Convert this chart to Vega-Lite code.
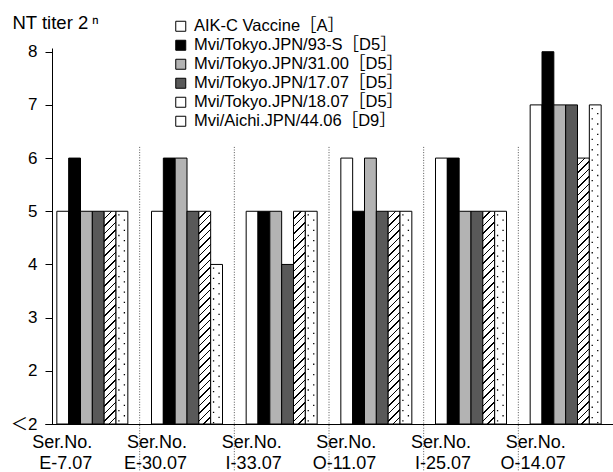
{
  "$schema": "https://vega.github.io/schema/vega-lite/v6.json",
  "width": 568,
  "height": 376,
  "autosize": {"type": "none"},
  "padding": {"left": 45, "top": 48, "right": 0, "bottom": 48},
  "config": {
    "font": "Liberation Sans, Noto Sans CJK JP, sans-serif",
    "view": {"stroke": null},
    "axis": {"labelColor": "#000", "titleColor": "#000", "domainColor": "#000", "tickColor": "#000", "grid": false, "domainWidth": 1, "tickWidth": 1}
  },
  "datasets": {
    "bars": [
      {"group": "E-7.07", "series": "AIK-C Vaccine［A］", "titer": 5},
      {"group": "E-7.07", "series": "Mvi/Tokyo.JPN/93-S［D5］", "titer": 6},
      {"group": "E-7.07", "series": "Mvi/Tokyo.JPN/31.00［D5］", "titer": 5},
      {"group": "E-7.07", "series": "Mvi/Tokyo.JPN/17.07［D5］", "titer": 5},
      {"group": "E-7.07", "series": "Mvi/Tokyo.JPN/18.07［D5］", "titer": 5},
      {"group": "E-7.07", "series": "Mvi/Aichi.JPN/44.06［D9］", "titer": 5},
      {"group": "E-30.07", "series": "AIK-C Vaccine［A］", "titer": 5},
      {"group": "E-30.07", "series": "Mvi/Tokyo.JPN/93-S［D5］", "titer": 6},
      {"group": "E-30.07", "series": "Mvi/Tokyo.JPN/31.00［D5］", "titer": 6},
      {"group": "E-30.07", "series": "Mvi/Tokyo.JPN/17.07［D5］", "titer": 5},
      {"group": "E-30.07", "series": "Mvi/Tokyo.JPN/18.07［D5］", "titer": 5},
      {"group": "E-30.07", "series": "Mvi/Aichi.JPN/44.06［D9］", "titer": 4},
      {"group": "I-33.07", "series": "AIK-C Vaccine［A］", "titer": 5},
      {"group": "I-33.07", "series": "Mvi/Tokyo.JPN/93-S［D5］", "titer": 5},
      {"group": "I-33.07", "series": "Mvi/Tokyo.JPN/31.00［D5］", "titer": 5},
      {"group": "I-33.07", "series": "Mvi/Tokyo.JPN/17.07［D5］", "titer": 4},
      {"group": "I-33.07", "series": "Mvi/Tokyo.JPN/18.07［D5］", "titer": 5},
      {"group": "I-33.07", "series": "Mvi/Aichi.JPN/44.06［D9］", "titer": 5},
      {"group": "O-11.07", "series": "AIK-C Vaccine［A］", "titer": 6},
      {"group": "O-11.07", "series": "Mvi/Tokyo.JPN/93-S［D5］", "titer": 5},
      {"group": "O-11.07", "series": "Mvi/Tokyo.JPN/31.00［D5］", "titer": 6},
      {"group": "O-11.07", "series": "Mvi/Tokyo.JPN/17.07［D5］", "titer": 5},
      {"group": "O-11.07", "series": "Mvi/Tokyo.JPN/18.07［D5］", "titer": 5},
      {"group": "O-11.07", "series": "Mvi/Aichi.JPN/44.06［D9］", "titer": 5},
      {"group": "I-25.07", "series": "AIK-C Vaccine［A］", "titer": 6},
      {"group": "I-25.07", "series": "Mvi/Tokyo.JPN/93-S［D5］", "titer": 6},
      {"group": "I-25.07", "series": "Mvi/Tokyo.JPN/31.00［D5］", "titer": 5},
      {"group": "I-25.07", "series": "Mvi/Tokyo.JPN/17.07［D5］", "titer": 5},
      {"group": "I-25.07", "series": "Mvi/Tokyo.JPN/18.07［D5］", "titer": 5},
      {"group": "I-25.07", "series": "Mvi/Aichi.JPN/44.06［D9］", "titer": 5},
      {"group": "O-14.07", "series": "AIK-C Vaccine［A］", "titer": 7},
      {"group": "O-14.07", "series": "Mvi/Tokyo.JPN/93-S［D5］", "titer": 8},
      {"group": "O-14.07", "series": "Mvi/Tokyo.JPN/31.00［D5］", "titer": 7},
      {"group": "O-14.07", "series": "Mvi/Tokyo.JPN/17.07［D5］", "titer": 7},
      {"group": "O-14.07", "series": "Mvi/Tokyo.JPN/18.07［D5］", "titer": 6},
      {"group": "O-14.07", "series": "Mvi/Aichi.JPN/44.06［D9］", "titer": 7}
    ],
    "separators": [
      {"group": "E-7.07"},
      {"group": "E-30.07"},
      {"group": "I-33.07"},
      {"group": "O-11.07"},
      {"group": "I-25.07"}
    ]
  },
  "layer": [
    {
      "data": {"name": "separators"},
      "mark": {"type": "rule", "color": "#555", "strokeWidth": 1, "strokeDash": [1, 1.6]},
      "encoding": {
        "x": {"field": "group", "type": "nominal", "bandPosition": 1},
        "y": {"datum": 6.21, "type": "quantitative"},
        "y2": {"datum": 0.1}
      }
    },
    {
      "data": {"name": "bars"},
      "mark": {"type": "bar", "stroke": "#000", "strokeWidth": 1},
      "encoding": {
        "x": {
          "field": "group", "type": "nominal", "sort": null,
          "scale": {"domain": ["E-7.07", "E-30.07", "I-33.07", "O-11.07", "I-25.07", "O-14.07"], "paddingInner": 0, "paddingOuter": 0},
          "axis": {"title": null, "ticks": false, "tickSize": 0, "labelAngle": 0, "labelExpr": "['Ser.No.', datum.label]", "labelFontSize": 18, "labelLineHeight": 21, "labelPadding": 9, "labelBaseline": "top"}
        },
        "xOffset": {
          "field": "series", "type": "nominal", "sort": null,
          "scale": {"domain": ["AIK-C Vaccine［A］", "Mvi/Tokyo.JPN/93-S［D5］", "Mvi/Tokyo.JPN/31.00［D5］", "Mvi/Tokyo.JPN/17.07［D5］", "Mvi/Tokyo.JPN/18.07［D5］", "Mvi/Aichi.JPN/44.06［D9］"], "paddingInner": 0, "paddingOuter": 1}
        },
        "y": {
          "field": "titer", "type": "quantitative",
          "scale": {"domain": [1, 8.07], "nice": false, "zero": false},
          "axis": {"values": [1, 2, 3, 4, 5, 6, 7, 8], "labelExpr": "datum.value == 1 ? '＜2' : format(datum.value, 'd')", "offset": -7, "tickSize": 7, "labelPadding": 8, "labelFontSize": 17, "title": "NT titer 2\u2009ⁿ", "titleAngle": 0, "titleAlign": "left", "titleBaseline": "alphabetic", "titleFontSize": 18.5, "titleFontWeight": "normal", "titleX": -40, "titleY": -20}
        },
        "y2": {"datum": 1},
        "fill": {
          "field": "series", "type": "nominal",
          "scale": {"domain": ["AIK-C Vaccine［A］", "Mvi/Tokyo.JPN/93-S［D5］", "Mvi/Tokyo.JPN/31.00［D5］", "Mvi/Tokyo.JPN/17.07［D5］", "Mvi/Tokyo.JPN/18.07［D5］", "Mvi/Aichi.JPN/44.06［D9］"], "range": ["#fff", "#000", "#b3b3b3", "#595959", "#fff", "#fff"]},
          "legend": {
            "orient": "none", "legendX": 127.5, "legendY": -30, "title": null, "padding": 0,
            "symbolType": "square", "symbolSize": 100, "symbolStrokeColor": "#000", "symbolStrokeWidth": 1,
            "labelFontSize": 16.5, "labelOffset": 5, "labelLimit": 400, "labelColor": "#000", "rowPadding": 2, "zindex": 1
          },
          "condition": [
            {"test": "datum.series === 'Mvi/Tokyo.JPN/18.07［D5］' && datum.titer === 6", "value": {"gradient": "linear", "x1": 0, "y1": 0, "x2": 0.050093, "y2": 1.12597, "stops": [
              {"offset": 0, "color": "#fff"},
              {"offset": 0.0225, "color": "#fff"}, {"offset": 0.0225, "color": "#000"}, {"offset": 0.0275, "color": "#000"}, {"offset": 0.0275, "color": "#fff"},
              {"offset": 0.0475, "color": "#fff"}, {"offset": 0.0475, "color": "#000"}, {"offset": 0.0525, "color": "#000"}, {"offset": 0.0525, "color": "#fff"},
              {"offset": 0.0725, "color": "#fff"}, {"offset": 0.0725, "color": "#000"}, {"offset": 0.0775, "color": "#000"}, {"offset": 0.0775, "color": "#fff"},
              {"offset": 0.0975, "color": "#fff"}, {"offset": 0.0975, "color": "#000"}, {"offset": 0.1025, "color": "#000"}, {"offset": 0.1025, "color": "#fff"},
              {"offset": 0.1225, "color": "#fff"}, {"offset": 0.1225, "color": "#000"}, {"offset": 0.1275, "color": "#000"}, {"offset": 0.1275, "color": "#fff"},
              {"offset": 0.1475, "color": "#fff"}, {"offset": 0.1475, "color": "#000"}, {"offset": 0.1525, "color": "#000"}, {"offset": 0.1525, "color": "#fff"},
              {"offset": 0.1725, "color": "#fff"}, {"offset": 0.1725, "color": "#000"}, {"offset": 0.1775, "color": "#000"}, {"offset": 0.1775, "color": "#fff"},
              {"offset": 0.1975, "color": "#fff"}, {"offset": 0.1975, "color": "#000"}, {"offset": 0.2025, "color": "#000"}, {"offset": 0.2025, "color": "#fff"},
              {"offset": 0.2225, "color": "#fff"}, {"offset": 0.2225, "color": "#000"}, {"offset": 0.2275, "color": "#000"}, {"offset": 0.2275, "color": "#fff"},
              {"offset": 0.2475, "color": "#fff"}, {"offset": 0.2475, "color": "#000"}, {"offset": 0.2525, "color": "#000"}, {"offset": 0.2525, "color": "#fff"},
              {"offset": 0.2725, "color": "#fff"}, {"offset": 0.2725, "color": "#000"}, {"offset": 0.2775, "color": "#000"}, {"offset": 0.2775, "color": "#fff"},
              {"offset": 0.2975, "color": "#fff"}, {"offset": 0.2975, "color": "#000"}, {"offset": 0.3025, "color": "#000"}, {"offset": 0.3025, "color": "#fff"},
              {"offset": 0.3225, "color": "#fff"}, {"offset": 0.3225, "color": "#000"}, {"offset": 0.3275, "color": "#000"}, {"offset": 0.3275, "color": "#fff"},
              {"offset": 0.3475, "color": "#fff"}, {"offset": 0.3475, "color": "#000"}, {"offset": 0.3525, "color": "#000"}, {"offset": 0.3525, "color": "#fff"},
              {"offset": 0.3725, "color": "#fff"}, {"offset": 0.3725, "color": "#000"}, {"offset": 0.3775, "color": "#000"}, {"offset": 0.3775, "color": "#fff"},
              {"offset": 0.3975, "color": "#fff"}, {"offset": 0.3975, "color": "#000"}, {"offset": 0.4025, "color": "#000"}, {"offset": 0.4025, "color": "#fff"},
              {"offset": 0.4225, "color": "#fff"}, {"offset": 0.4225, "color": "#000"}, {"offset": 0.4275, "color": "#000"}, {"offset": 0.4275, "color": "#fff"},
              {"offset": 0.4475, "color": "#fff"}, {"offset": 0.4475, "color": "#000"}, {"offset": 0.4525, "color": "#000"}, {"offset": 0.4525, "color": "#fff"},
              {"offset": 0.4725, "color": "#fff"}, {"offset": 0.4725, "color": "#000"}, {"offset": 0.4775, "color": "#000"}, {"offset": 0.4775, "color": "#fff"},
              {"offset": 0.4975, "color": "#fff"}, {"offset": 0.4975, "color": "#000"}, {"offset": 0.5025, "color": "#000"}, {"offset": 0.5025, "color": "#fff"},
              {"offset": 0.5225, "color": "#fff"}, {"offset": 0.5225, "color": "#000"}, {"offset": 0.5275, "color": "#000"}, {"offset": 0.5275, "color": "#fff"},
              {"offset": 0.5475, "color": "#fff"}, {"offset": 0.5475, "color": "#000"}, {"offset": 0.5525, "color": "#000"}, {"offset": 0.5525, "color": "#fff"},
              {"offset": 0.5725, "color": "#fff"}, {"offset": 0.5725, "color": "#000"}, {"offset": 0.5775, "color": "#000"}, {"offset": 0.5775, "color": "#fff"},
              {"offset": 0.5975, "color": "#fff"}, {"offset": 0.5975, "color": "#000"}, {"offset": 0.6025, "color": "#000"}, {"offset": 0.6025, "color": "#fff"},
              {"offset": 0.6225, "color": "#fff"}, {"offset": 0.6225, "color": "#000"}, {"offset": 0.6275, "color": "#000"}, {"offset": 0.6275, "color": "#fff"},
              {"offset": 0.6475, "color": "#fff"}, {"offset": 0.6475, "color": "#000"}, {"offset": 0.6525, "color": "#000"}, {"offset": 0.6525, "color": "#fff"},
              {"offset": 0.6725, "color": "#fff"}, {"offset": 0.6725, "color": "#000"}, {"offset": 0.6775, "color": "#000"}, {"offset": 0.6775, "color": "#fff"},
              {"offset": 0.6975, "color": "#fff"}, {"offset": 0.6975, "color": "#000"}, {"offset": 0.7025, "color": "#000"}, {"offset": 0.7025, "color": "#fff"},
              {"offset": 0.7225, "color": "#fff"}, {"offset": 0.7225, "color": "#000"}, {"offset": 0.7275, "color": "#000"}, {"offset": 0.7275, "color": "#fff"},
              {"offset": 0.7475, "color": "#fff"}, {"offset": 0.7475, "color": "#000"}, {"offset": 0.7525, "color": "#000"}, {"offset": 0.7525, "color": "#fff"},
              {"offset": 0.7725, "color": "#fff"}, {"offset": 0.7725, "color": "#000"}, {"offset": 0.7775, "color": "#000"}, {"offset": 0.7775, "color": "#fff"},
              {"offset": 0.7975, "color": "#fff"}, {"offset": 0.7975, "color": "#000"}, {"offset": 0.8025, "color": "#000"}, {"offset": 0.8025, "color": "#fff"},
              {"offset": 0.8225, "color": "#fff"}, {"offset": 0.8225, "color": "#000"}, {"offset": 0.8275, "color": "#000"}, {"offset": 0.8275, "color": "#fff"},
              {"offset": 0.8475, "color": "#fff"}, {"offset": 0.8475, "color": "#000"}, {"offset": 0.8525, "color": "#000"}, {"offset": 0.8525, "color": "#fff"},
              {"offset": 0.8725, "color": "#fff"}, {"offset": 0.8725, "color": "#000"}, {"offset": 0.8775, "color": "#000"}, {"offset": 0.8775, "color": "#fff"},
              {"offset": 0.8975, "color": "#fff"}, {"offset": 0.8975, "color": "#000"}, {"offset": 0.9025, "color": "#000"}, {"offset": 0.9025, "color": "#fff"},
              {"offset": 0.9225, "color": "#fff"}, {"offset": 0.9225, "color": "#000"}, {"offset": 0.9275, "color": "#000"}, {"offset": 0.9275, "color": "#fff"},
              {"offset": 1, "color": "#fff"}
            ]}},
            {"test": "datum.series === 'Mvi/Tokyo.JPN/18.07［D5］'", "value": {"gradient": "linear", "x1": 0, "y1": 0, "x2": 0.07818, "y2": 1.40589, "stops": [
              {"offset": 0, "color": "#fff"},
              {"offset": 0.0225, "color": "#fff"}, {"offset": 0.0225, "color": "#000"}, {"offset": 0.0275, "color": "#000"}, {"offset": 0.0275, "color": "#fff"},
              {"offset": 0.0475, "color": "#fff"}, {"offset": 0.0475, "color": "#000"}, {"offset": 0.0525, "color": "#000"}, {"offset": 0.0525, "color": "#fff"},
              {"offset": 0.0725, "color": "#fff"}, {"offset": 0.0725, "color": "#000"}, {"offset": 0.0775, "color": "#000"}, {"offset": 0.0775, "color": "#fff"},
              {"offset": 0.0975, "color": "#fff"}, {"offset": 0.0975, "color": "#000"}, {"offset": 0.1025, "color": "#000"}, {"offset": 0.1025, "color": "#fff"},
              {"offset": 0.1225, "color": "#fff"}, {"offset": 0.1225, "color": "#000"}, {"offset": 0.1275, "color": "#000"}, {"offset": 0.1275, "color": "#fff"},
              {"offset": 0.1475, "color": "#fff"}, {"offset": 0.1475, "color": "#000"}, {"offset": 0.1525, "color": "#000"}, {"offset": 0.1525, "color": "#fff"},
              {"offset": 0.1725, "color": "#fff"}, {"offset": 0.1725, "color": "#000"}, {"offset": 0.1775, "color": "#000"}, {"offset": 0.1775, "color": "#fff"},
              {"offset": 0.1975, "color": "#fff"}, {"offset": 0.1975, "color": "#000"}, {"offset": 0.2025, "color": "#000"}, {"offset": 0.2025, "color": "#fff"},
              {"offset": 0.2225, "color": "#fff"}, {"offset": 0.2225, "color": "#000"}, {"offset": 0.2275, "color": "#000"}, {"offset": 0.2275, "color": "#fff"},
              {"offset": 0.2475, "color": "#fff"}, {"offset": 0.2475, "color": "#000"}, {"offset": 0.2525, "color": "#000"}, {"offset": 0.2525, "color": "#fff"},
              {"offset": 0.2725, "color": "#fff"}, {"offset": 0.2725, "color": "#000"}, {"offset": 0.2775, "color": "#000"}, {"offset": 0.2775, "color": "#fff"},
              {"offset": 0.2975, "color": "#fff"}, {"offset": 0.2975, "color": "#000"}, {"offset": 0.3025, "color": "#000"}, {"offset": 0.3025, "color": "#fff"},
              {"offset": 0.3225, "color": "#fff"}, {"offset": 0.3225, "color": "#000"}, {"offset": 0.3275, "color": "#000"}, {"offset": 0.3275, "color": "#fff"},
              {"offset": 0.3475, "color": "#fff"}, {"offset": 0.3475, "color": "#000"}, {"offset": 0.3525, "color": "#000"}, {"offset": 0.3525, "color": "#fff"},
              {"offset": 0.3725, "color": "#fff"}, {"offset": 0.3725, "color": "#000"}, {"offset": 0.3775, "color": "#000"}, {"offset": 0.3775, "color": "#fff"},
              {"offset": 0.3975, "color": "#fff"}, {"offset": 0.3975, "color": "#000"}, {"offset": 0.4025, "color": "#000"}, {"offset": 0.4025, "color": "#fff"},
              {"offset": 0.4225, "color": "#fff"}, {"offset": 0.4225, "color": "#000"}, {"offset": 0.4275, "color": "#000"}, {"offset": 0.4275, "color": "#fff"},
              {"offset": 0.4475, "color": "#fff"}, {"offset": 0.4475, "color": "#000"}, {"offset": 0.4525, "color": "#000"}, {"offset": 0.4525, "color": "#fff"},
              {"offset": 0.4725, "color": "#fff"}, {"offset": 0.4725, "color": "#000"}, {"offset": 0.4775, "color": "#000"}, {"offset": 0.4775, "color": "#fff"},
              {"offset": 0.4975, "color": "#fff"}, {"offset": 0.4975, "color": "#000"}, {"offset": 0.5025, "color": "#000"}, {"offset": 0.5025, "color": "#fff"},
              {"offset": 0.5225, "color": "#fff"}, {"offset": 0.5225, "color": "#000"}, {"offset": 0.5275, "color": "#000"}, {"offset": 0.5275, "color": "#fff"},
              {"offset": 0.5475, "color": "#fff"}, {"offset": 0.5475, "color": "#000"}, {"offset": 0.5525, "color": "#000"}, {"offset": 0.5525, "color": "#fff"},
              {"offset": 0.5725, "color": "#fff"}, {"offset": 0.5725, "color": "#000"}, {"offset": 0.5775, "color": "#000"}, {"offset": 0.5775, "color": "#fff"},
              {"offset": 0.5975, "color": "#fff"}, {"offset": 0.5975, "color": "#000"}, {"offset": 0.6025, "color": "#000"}, {"offset": 0.6025, "color": "#fff"},
              {"offset": 0.6225, "color": "#fff"}, {"offset": 0.6225, "color": "#000"}, {"offset": 0.6275, "color": "#000"}, {"offset": 0.6275, "color": "#fff"},
              {"offset": 0.6475, "color": "#fff"}, {"offset": 0.6475, "color": "#000"}, {"offset": 0.6525, "color": "#000"}, {"offset": 0.6525, "color": "#fff"},
              {"offset": 0.6725, "color": "#fff"}, {"offset": 0.6725, "color": "#000"}, {"offset": 0.6775, "color": "#000"}, {"offset": 0.6775, "color": "#fff"},
              {"offset": 0.6975, "color": "#fff"}, {"offset": 0.6975, "color": "#000"}, {"offset": 0.7025, "color": "#000"}, {"offset": 0.7025, "color": "#fff"},
              {"offset": 0.7225, "color": "#fff"}, {"offset": 0.7225, "color": "#000"}, {"offset": 0.7275, "color": "#000"}, {"offset": 0.7275, "color": "#fff"},
              {"offset": 0.7475, "color": "#fff"}, {"offset": 0.7475, "color": "#000"}, {"offset": 0.7525, "color": "#000"}, {"offset": 0.7525, "color": "#fff"},
              {"offset": 1, "color": "#fff"}
            ]}}
          ]
        }
      }
    },
    {
      "data": {"name": "bars"},
      "transform": [{"filter": "datum.series === 'Mvi/Aichi.JPN/44.06［D9］'"}],
      "mark": {"type": "rule", "color": "#000", "strokeWidth": 1.3, "strokeCap": "butt", "strokeDash": [1.3, 9], "strokeDashOffset": 7.3},
      "encoding": {
        "x": {"field": "group", "type": "nominal", "bandPosition": 0.7806},
        "y": {"field": "titer", "type": "quantitative"},
        "y2": {"datum": 1}
      }
    },
    {
      "data": {"name": "bars"},
      "transform": [{"filter": "datum.series === 'Mvi/Aichi.JPN/44.06［D9］'"}],
      "mark": {"type": "rule", "color": "#000", "strokeWidth": 1.3, "strokeCap": "butt", "strokeDash": [1.3, 9], "strokeDashOffset": 2.15},
      "encoding": {
        "x": {"field": "group", "type": "nominal", "bandPosition": 0.8387},
        "y": {"field": "titer", "type": "quantitative"},
        "y2": {"datum": 1}
      }
    }
  ]
}
